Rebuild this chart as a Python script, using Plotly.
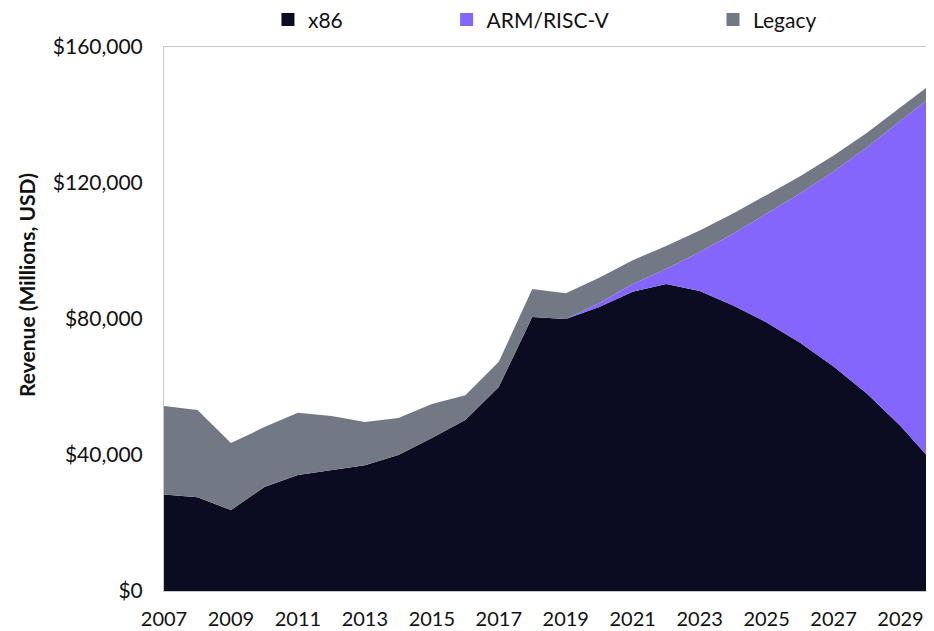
import plotly.graph_objects as go

years = list(range(2007, 2031))

x86 = [28.4, 27.6, 23.8, 30.6, 34.1, 35.6, 37.0, 40.0, 45.0, 50.3, 60.0, 80.6,
       80.0, 83.5, 88.0, 90.3, 88.2, 84.0, 79.0, 73.0, 66.0, 58.0, 48.5, 37.5]
arm = [0, 0, 0, 0, 0, 0, 0, 0, 0, 0, 0, 0,
       0, 1.2, 2.3, 4.4, 11.5, 21.1, 32.0, 43.9, 57.4, 72.5, 89.8, 108.5]
legacy = [26.0, 25.6, 19.7, 17.6, 18.3, 15.9, 12.7, 10.9, 10.0, 7.3, 7.4, 8.2,
          7.6, 7.4, 7.0, 6.8, 6.3, 5.9, 5.5, 5.1, 4.7, 4.3, 4.0, 3.7]

x86_usd = [v * 1000 for v in x86]
arm_usd = [v * 1000 for v in arm]
legacy_usd = [v * 1000 for v in legacy]

series_names = ["x86", "ARM/RISC-V", "Legacy"]
colors = ["#0b0b22", "#8466fc", "#737885"]
tick_years = list(range(2007, 2030, 2))
y_ticks = [0, 40000, 80000, 120000, 160000]
y_tick_labels = ["$0", "$40,000", "$80,000", "$120,000", "$160,000"]
y_title = "Revenue (Millions, USD)"

FONT = "Lato"
fig = go.Figure()
for name, vals, col in zip(series_names, [x86_usd, arm_usd, legacy_usd], colors):
    fig.add_trace(go.Scatter(
        x=years, y=vals, name=name, stackgroup="one", mode="lines",
        line=dict(width=0, color=col), fillcolor=col, showlegend=False,
        hovertemplate=name + " %{x}: $%{y:,.0f}M<extra></extra>"))

legend_ids = ["legend", "legend2", "legend3"]
legend_x = [0.135, 0.367, 0.713]
for name, col, lid in zip(series_names, colors, legend_ids):
    fig.add_trace(go.Scatter(
        x=[None], y=[None], mode="markers", name=name, legend=lid,
        marker=dict(symbol="square", size=13, color=col), showlegend=True))

legend_common = dict(orientation="h", yanchor="middle", xanchor="left",
                     y=1.05, font=dict(family=FONT, size=21, color="#111111"),
                     bgcolor="rgba(0,0,0,0)", itemwidth=30)
layout_legends = {}
for lid, lx in zip(legend_ids, legend_x):
    layout_legends[lid] = dict(legend_common, x=lx)

# page has an 8px body margin, so the figure is sized/offset to compensate
fig.update_layout(
    width=926, height=623,
    margin=dict(l=156, r=0, t=39, b=40, autoexpand=False),
    paper_bgcolor="white", plot_bgcolor="white",
    font=dict(family=FONT, size=20, color="#111111"),
    **layout_legends,
)
fig.add_annotation(
    text="<b>" + y_title + "</b>", textangle=-90, showarrow=False,
    xref="paper", yref="paper", x=0, y=0.5625, xanchor="center", yanchor="middle",
    xshift=-138, font=dict(family=FONT, size=21, color="#111111"))
fig.update_xaxes(
    range=[2007, 2030], tickvals=tick_years, ticktext=[str(y) for y in tick_years],
    showgrid=False, zeroline=False, showline=True, linecolor="#c8c8c8", linewidth=1,
    mirror=True, ticks="", ticklabelstandoff=10, automargin=False,
    tickfont=dict(family=FONT, size=20, color="#111111"))
fig.update_yaxes(
    range=[0, 160000], tickvals=y_ticks, ticktext=y_tick_labels,
    showgrid=False, zeroline=False, showline=True, linecolor="#c8c8c8", linewidth=1,
    mirror=True, ticks="", ticklabelstandoff=16, automargin=False,
    tickfont=dict(family=FONT, size=21, color="#111111"))

fig.write_html("out.html")
